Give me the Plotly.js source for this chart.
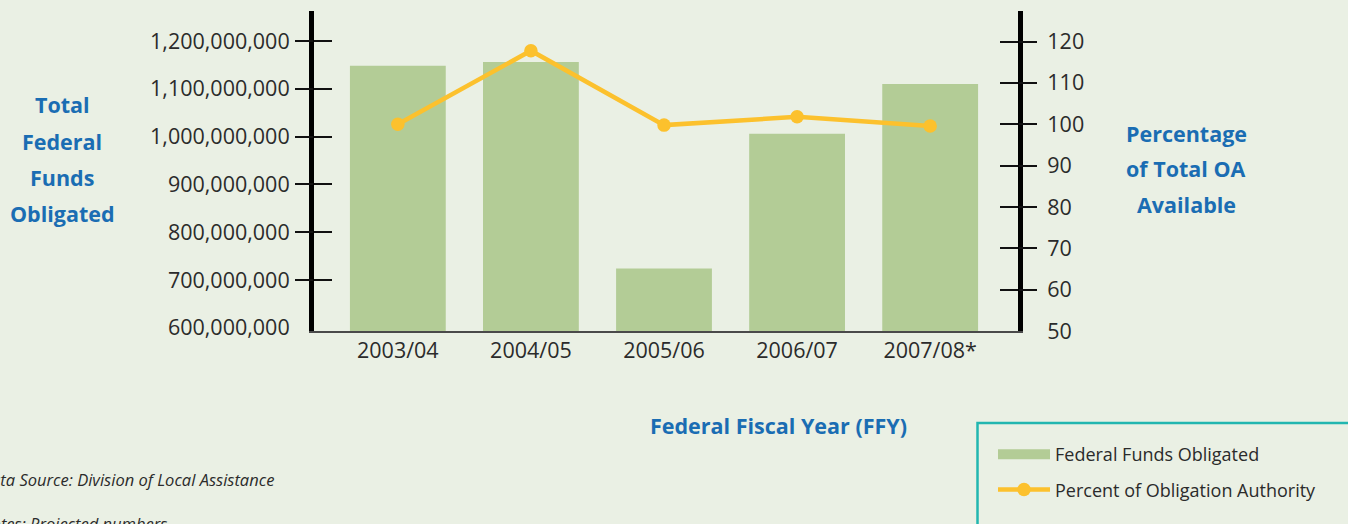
<!DOCTYPE html>
<html><head><meta charset="utf-8">
<script src="https://cdn.plot.ly/plotly-3.0.1.min.js"></script>
<style>html,body{margin:0;padding:0;background:#eaf0e4;overflow:hidden}#chart{width:1348px;height:524px}</style>
</head><body><div id="chart"></div>
<script>
// ---- data ----
const years = ['2003/04', '2004/05', '2005/06', '2006/07', '2007/08*'];
const fundsObligated = [1148000000, 1156000000, 724000000, 1006000000, 1110000000];
const percentOA = [100, 117.8, 99.8, 101.8, 99.6];
const leftTickVals = [600e6, 700e6, 800e6, 900e6, 1000e6, 1100e6, 1200e6];
const leftTickText = ['600,000,000', '700,000,000', '800,000,000', '900,000,000', '1,000,000,000', '1,100,000,000', '1,200,000,000'];
const rightTickVals = [50, 60, 70, 80, 90, 100, 110, 120];
const leftTitleLines = ['Total', 'Federal', 'Funds', 'Obligated'];
const rightTitleLines = ['Percentage', 'of Total OA', 'Available'];
const xTitle = 'Federal Fiscal Year (FFY)';
const notes = ['Data Source: Division of Local Assistance', 'Notes: Projected numbers'];

// ---- layout geometry ----
const W = 1348, H = 524;
const L = 314, R = 1018, T = 11, B = 331;
const px = x => (x - L) / (R - L);
const py = y => (B - y) / (B - T);

const BG = '#eaf0e4';
const BAR = '#b3cc96';
const LINE = '#fcc12d';
const BLUE = '#1a6db3';
const TXT = '#2b2b2b';
const FONT = '"Open Sans", "Noto Sans", sans-serif';
const TICK_SIZE = 21.5;
const TITLE_SIZE = 21.5;

const yLeftRange = [593.5e6, 1262.7e6];
const yRightRange = [50.0, 127.4];
const nulls = years.map(() => null);

const traces = [
  {type: 'bar', name: 'Federal Funds Obligated', x: years, y: fundsObligated,
   marker: {color: BAR}, yaxis: 'y', showlegend: false, hoverinfo: 'x+y'},
  // legend entry for the bars (drawn as a wide swatch)
  {type: 'scatter', mode: 'lines', name: 'Federal Funds Obligated', x: years, y: nulls,
   yaxis: 'y', legendgroup: 'a', line: {color: BAR, width: 12}, hoverinfo: 'skip'},
  {type: 'scatter', mode: 'lines+markers', name: 'Percent of Obligation Authority',
   x: years, y: percentOA, yaxis: 'y2', legendgroup: 'b',
   line: {color: LINE, width: 4.5}, marker: {color: LINE, size: 13.5}},
  // tick-only overlay axes (no data)
  {type: 'scatter', x: years, y: nulls, yaxis: 'y3', showlegend: false, hoverinfo: 'skip'},
  {type: 'scatter', x: years, y: nulls, yaxis: 'y4', showlegend: false, hoverinfo: 'skip'},
  {type: 'scatter', x: years, y: nulls, yaxis: 'y5', showlegend: false, hoverinfo: 'skip'},
  {type: 'scatter', x: years, y: nulls, yaxis: 'y6', showlegend: false, hoverinfo: 'skip'}
];

const tickAxis = (side, range, vals, dir) => ({
  overlaying: 'y', side: side, range: range, tickmode: 'array', tickvals: vals,
  ticks: dir, ticklen: 18, tickwidth: 2, tickcolor: '#111',
  showticklabels: false, showgrid: false, zeroline: false, showline: false, fixedrange: true
});

const annotations = [];
leftTitleLines.forEach((t, i) => annotations.push({
  text: t, xref: 'paper', yref: 'paper', x: px(62), y: py(105 + i * 36),
  xanchor: 'center', yanchor: 'middle', showarrow: false,
  font: {family: FONT, size: TITLE_SIZE, color: BLUE, weight: 700}
}));
rightTitleLines.forEach((t, i) => annotations.push({
  text: t, xref: 'paper', yref: 'paper', x: px(1186), y: py(133 + i * 35.5),
  xanchor: 'center', yanchor: 'middle', showarrow: false,
  font: {family: FONT, size: TITLE_SIZE, color: BLUE, weight: 700}
}));
annotations.push({
  text: xTitle, xref: 'paper', yref: 'paper', x: px(778), y: py(425),
  xanchor: 'center', yanchor: 'middle', showarrow: false,
  font: {family: FONT, size: TITLE_SIZE, color: BLUE, weight: 700}
});
annotations.push({
  text: '<i>' + notes[0] + '</i>', xref: 'paper', yref: 'paper', x: px(-22), y: py(479),
  xanchor: 'left', yanchor: 'middle', showarrow: false,
  font: {family: FONT, size: 16.5, color: TXT}
});
annotations.push({
  text: '<i>' + notes[1] + '</i>', xref: 'paper', yref: 'paper', x: px(-22), y: py(523),
  xanchor: 'left', yanchor: 'middle', showarrow: false,
  font: {family: FONT, size: 16.5, color: TXT}
});

const layout = {
  width: W, height: H,
  paper_bgcolor: BG, plot_bgcolor: BG,
  margin: {l: L, r: W - R, t: T, b: H - B, autoexpand: false},
  font: {family: FONT, color: TXT, size: 20},
  bargap: 0.28,
  showlegend: true,
  legend: {
    x: px(993), y: py(436), xanchor: 'left', yanchor: 'top',
    bgcolor: 'rgba(0,0,0,0)', borderwidth: 0,
    font: {family: FONT, size: 18, color: TXT},
    traceorder: 'grouped', tracegroupgap: 9, itemwidth: 52
  },
  xaxis: {
    type: 'category', range: [-0.63, 4.66],
    showline: true, linecolor: '#4a4a4a', linewidth: 1.5,
    ticks: '', showgrid: false, zeroline: false,
    tickfont: {family: FONT, size: TICK_SIZE, color: TXT}, fixedrange: true
  },
  yaxis: {
    range: yLeftRange, tickmode: 'array', tickvals: leftTickVals, ticktext: leftTickText,
    ticks: '', ticklabelstandoff: 15, showline: true, linecolor: '#000', linewidth: 5,
    showgrid: false, zeroline: false,
    tickfont: {family: FONT, size: TICK_SIZE, color: TXT}, fixedrange: true
  },
  yaxis2: {
    overlaying: 'y', side: 'right', range: yRightRange, tickmode: 'array', tickvals: rightTickVals,
    ticks: '', ticklabelstandoff: 20, showline: true, linecolor: '#000', linewidth: 5,
    showgrid: false, zeroline: false,
    tickfont: {family: FONT, size: TICK_SIZE, color: TXT}, fixedrange: true
  },
  yaxis3: tickAxis('left', yLeftRange, leftTickVals.slice(1), 'outside'),
  yaxis4: tickAxis('left', yLeftRange, leftTickVals.slice(1), 'inside'),
  yaxis5: tickAxis('right', yRightRange, rightTickVals.slice(1), 'outside'),
  yaxis6: tickAxis('right', yRightRange, rightTickVals.slice(1), 'inside'),
  shapes: [{
    type: 'rect', xref: 'paper', yref: 'paper',
    x0: px(977.5), x1: px(1362), y0: py(423), y1: py(540),
    line: {color: '#22b6b0', width: 2.5}, fillcolor: 'rgba(0,0,0,0)'
  }],
  annotations: annotations
};

Plotly.newPlot('chart', traces, layout, {displayModeBar: false, staticPlot: true});
</script>
</body></html>
